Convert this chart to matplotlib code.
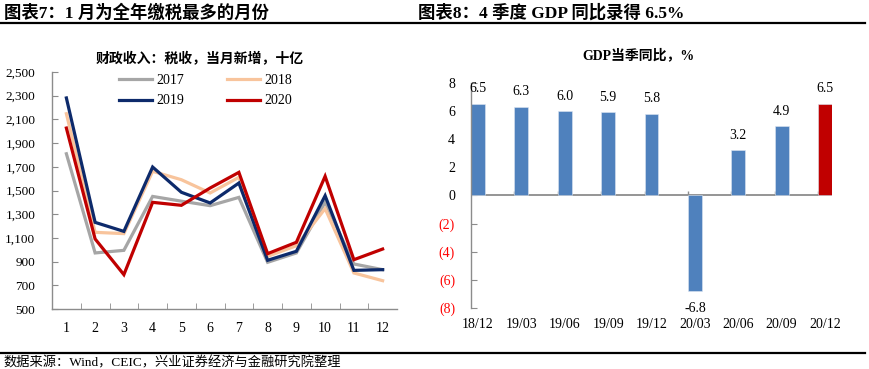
import matplotlib
matplotlib.use("Agg")
import matplotlib.pyplot as plt
from matplotlib.lines import Line2D

plt.rcParams['font.family'] = ['Liberation Serif', 'Noto Sans CJK SC', 'DejaVu Sans']

# ---------------- data ----------------
months = ['1', '2', '3', '4', '5', '6', '7', '8', '9', '10', '11', '12']
tax_2017 = [1810, 973, 995, 1450, 1410, 1372, 1442, 894, 973, 1400, 880, 832]
tax_2018 = [2148, 1147, 1136, 1662, 1591, 1479, 1611, 944, 1034, 1347, 804, 739]
tax_2019 = [2281, 1231, 1155, 1698, 1485, 1395, 1563, 911, 987, 1456, 826, 832]
tax_2020 = [2027, 1091, 790, 1400, 1375, 1521, 1653, 967, 1063, 1620, 916, 1006]
series_years = ['2017', '2018', '2019', '2020']

quarters = ['18/12', '19/03', '19/06', '19/09', '19/12', '20/03', '20/06', '20/09', '20/12']
gdp_yoy = [6.5, 6.3, 6.0, 5.9, 5.8, -6.8, 3.2, 4.9, 6.5]

left_yticks = [500, 700, 900, 1100, 1300, 1500, 1700, 1900, 2100, 2300, 2500]
right_yticks = [-8, -6, -4, -2, 0, 2, 4, 6, 8]
right_ylabels = ['(8)', '(6)', '(4)', '(2)', '0', '2', '4', '6', '8']

# ---------------- style ----------------
W, H = 869, 369
fig = plt.figure(figsize=(W / 100, H / 100), dpi=100)
axis_gray = '#8C8C8C'
cjk = ['Noto Sans CJK SC', 'DejaVu Sans']

line_colors = ['#A6A6A6', '#F8C49C', '#0D2A6B', '#C00000']

# ---------------- left chart ----------------
axL = fig.add_axes([52 / W, 1 - 309 / H, 345 / W, (309 - 72) / H])
x = list(range(len(months)))
for vals, c, lab in zip([tax_2017, tax_2018, tax_2019, tax_2020], line_colors, series_years):
    axL.plot(x, vals, color=c, lw=2.3, label=lab, solid_joinstyle='miter')
axL.set_xlim(-0.5, len(months) - 0.5)
axL.set_ylim(500, 2500)
axL.set_yticks(left_yticks)
axL.set_yticklabels([f'{v:,}' for v in left_yticks], fontsize=9.5)
axL.set_xticks(x)
axL.set_xticklabels(months, fontsize=10)
axL.set_xticks([i + 0.5 for i in range(len(months) - 1)], minor=True)
axL.tick_params(axis='x', which='major', length=0, pad=9)
axL.tick_params(axis='x', which='minor', direction='in', length=4, color=axis_gray)
axL.tick_params(axis='y', direction='in', length=4, color=axis_gray, pad=12)
for s in ['top', 'right']:
    axL.spines[s].set_visible(False)
for s in ['left', 'bottom']:
    axL.spines[s].set_color(axis_gray)
    axL.spines[s].set_linewidth(1.0)

order = [0, 2, 1, 3]
handles = [Line2D([0], [0], color=line_colors[i], lw=2.3) for i in order]
labels = [series_years[i] for i in order]
leg = axL.legend(handles, labels, loc='upper left', bbox_to_anchor=(0.157, 1.045),
                 ncol=2, frameon=False, fontsize=10, handlelength=2.4,
                 handletextpad=0.3, columnspacing=3.1, labelspacing=0.55)
fig.text(200 / W, 1 - 59 / H, '财政收入：税收，当月新增，十亿', family=cjk,
         fontweight='bold', fontsize=10, ha='center', va='center')

# ---------------- right chart ----------------
axR = fig.add_axes([471 / W, 1 - 308 / H, (832 - 471) / W, (308 - 82.7) / H])
xq = list(range(len(quarters)))
bar_colors = ['#4F81BD'] * (len(quarters) - 1) + ['#C00000']
bw = 0.32
axR.vlines([i - bw / 2 for i in xq], 0, 0.28, color=axis_gray, lw=1.0, zorder=1)
axR.bar(xq, gdp_yoy, width=bw, color=bar_colors, zorder=2,
        edgecolor='#DCE6F2', linewidth=0.4)
axR.axhline(0, color=axis_gray, lw=1.3, zorder=1.5)
axR.set_xlim(-bw / 2, len(quarters) - 1 + bw / 2)
axR.set_ylim(-8, 8)
axR.set_yticks(right_yticks)
axR.set_yticklabels(right_ylabels, fontsize=10)
for t, v in zip(axR.get_yticklabels(), right_yticks):
    t.set_color('#FF0000' if v < 0 else 'black')
axR.set_xticks(xq)
axR.set_xticklabels(quarters, fontsize=10)
axR.tick_params(axis='x', length=0, pad=7)
axR.tick_params(axis='y', direction='in', length=4, color=axis_gray, pad=11.5)
for s in ['top', 'right', 'bottom']:
    axR.spines[s].set_visible(False)
axR.spines['left'].set_color(axis_gray)
axR.spines['left'].set_linewidth(1.0)
for i, v in zip(xq, gdp_yoy):
    if v >= 0:
        axR.annotate(f'{v:.1f}', (i, v), xytext=(0, 6), textcoords='offset points',
                     ha='center', va='bottom', fontsize=10)
    else:
        axR.annotate(f'{v:.1f}', (i, v), xytext=(0, -8), textcoords='offset points',
                     ha='center', va='top', fontsize=10)
fig.text(638 / W, 1 - 55 / H, 'GDP当季同比，%', family=['Liberation Serif', 'Noto Sans CJK SC'],
         fontweight='bold', fontsize=10, ha='center', va='center')

# ---------------- header / footer ----------------
hdr_family = ['Liberation Serif', 'Noto Sans CJK SC']
fig.text(4 / W, 1 - 13 / H, '图表7：1 月为全年缴税最多的月份', family=hdr_family,
         fontweight='bold', fontsize=12.5, ha='left', va='center')
fig.text(418 / W, 1 - 13 / H, '图表8：4 季度 GDP 同比录得 6.5%', family=hdr_family,
         fontweight='bold', fontsize=12.5, ha='left', va='center')
fig.add_artist(Line2D([0, 865 / W], [1 - 22.7 / H] * 2, color='black', lw=1.6))
fig.add_artist(Line2D([0, 865 / W], [1 - 353 / H] * 2, color='black', lw=1.6))
fig.text(3 / W, 1 - 363 / H, '数据来源：Wind，CEIC，兴业证券经济与金融研究院整理',
         family=hdr_family, fontsize=9.5, ha='left', va='center')

fig.savefig('out.png', dpi=100)
